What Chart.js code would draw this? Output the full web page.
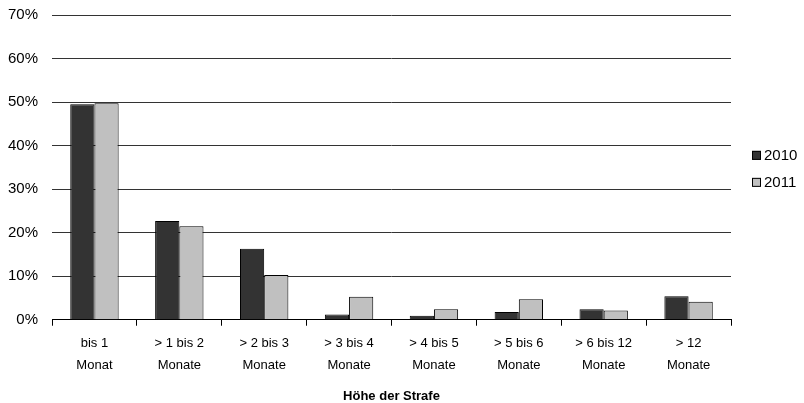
<!DOCTYPE html>
<html>
<head>
<meta charset="utf-8">
<script src="https://cdn.jsdelivr.net/npm/chart.js@4"></script>
<style>
html,body{margin:0;padding:0;background:#fff;}
#wrap{width:804px;height:403px;}
</style>
</head>
<body>
<div id="wrap"><canvas id="c" width="804" height="403"></canvas></div>
<script>
const categories = [
  ["bis 1", "Monat"],
  ["> 1 bis 2", "Monate"],
  ["> 2 bis 3", "Monate"],
  ["> 3 bis 4", "Monate"],
  ["> 4 bis 5", "Monate"],
  ["> 5 bis 6", "Monate"],
  ["> 6 bis 12", "Monate"],
  ["> 12", "Monate"]
];
const values2010 = [49.5, 22.7, 16.3, 1.2, 0.9, 1.8, 2.4, 5.4];
const values2011 = [49.7, 21.5, 10.3, 5.3, 2.4, 4.7, 2.1, 4.1];
const seriesNames = ["2010", "2011"];
const xTitle = "Höhe der Strafe";

const FONT = "'Liberation Sans', Arial, sans-serif";
Chart.defaults.font.family = FONT;
Chart.defaults.font.size = 13;
Chart.defaults.color = "#000";

// Legend drawn to the right of the plot area, vertically centred on it
const sideLegend = {
  id: "sideLegend",
  afterDraw(chart) {
    const ctx = chart.ctx;
    const area = chart.chartArea;
    const ds = chart.data.datasets;
    const rowH = 27;
    const box = 9;
    const x = area.right + 21;
    const midY = (area.top + area.bottom) / 2;
    const startY = midY - (ds.length - 1) * rowH / 2 + 1.5;
    ctx.save();
    ctx.font = "15px " + FONT;
    ctx.textBaseline = "middle";
    ctx.textAlign = "left";
    ds.forEach((d, i) => {
      const cy = startY + i * rowH;
      ctx.fillStyle = d.backgroundColor;
      ctx.fillRect(x, cy - box / 2, box, box);
      ctx.strokeStyle = "#000";
      ctx.lineWidth = 1;
      ctx.strokeRect(x + 0.5, cy - box / 2 + 0.5, box - 1, box - 1);
      ctx.fillStyle = "#000";
      ctx.fillText(d.label, x + 12, cy);
    });
    ctx.restore();
  }
};

new Chart(document.getElementById("c"), {
  type: "bar",
  data: {
    labels: categories,
    datasets: [
      { label: seriesNames[0], data: values2010, backgroundColor: "#333333", borderColor: "#000", borderWidth: 1 },
      { label: seriesNames[1], data: values2011, backgroundColor: "#c0c0c0", borderColor: "#000", borderWidth: 1 }
    ]
  },
  plugins: [sideLegend],
  options: {
    responsive: false,
    animation: false,
    devicePixelRatio: 1,
    layout: { padding: { left: 6, right: 73, top: 15, bottom: -2 } },
    datasets: { bar: { categoryPercentage: 0.57, barPercentage: 1.0 } },
    plugins: {
      legend: { display: false },
      tooltip: { enabled: false }
    },
    scales: {
      x: {
        offset: true,
        grid: { offset: true, drawOnChartArea: false, drawTicks: true, tickLength: 6, color: "#000" },
        border: { color: "#000", width: 1 },
        ticks: { maxRotation: 0, autoSkip: false, padding: 6.5, font: { size: 13, lineHeight: 1.68 } },
        title: { display: true, text: xTitle, font: { size: 13, weight: "bold" }, padding: { top: 6, bottom: 1 } }
      },
      y: {
        min: 0, max: 70,
        afterFit(scale) { scale.width = 46; scale.paddingTop = 0; },
        ticks: { stepSize: 10, padding: 14, callback: v => v + "%", font: { size: 15, lineHeight: 1.0 } },
        grid: { color: "#333", drawTicks: false, lineWidth: 1 },
        border: { display: false }
      }
    }
  }
});
</script>
</body>
</html>
